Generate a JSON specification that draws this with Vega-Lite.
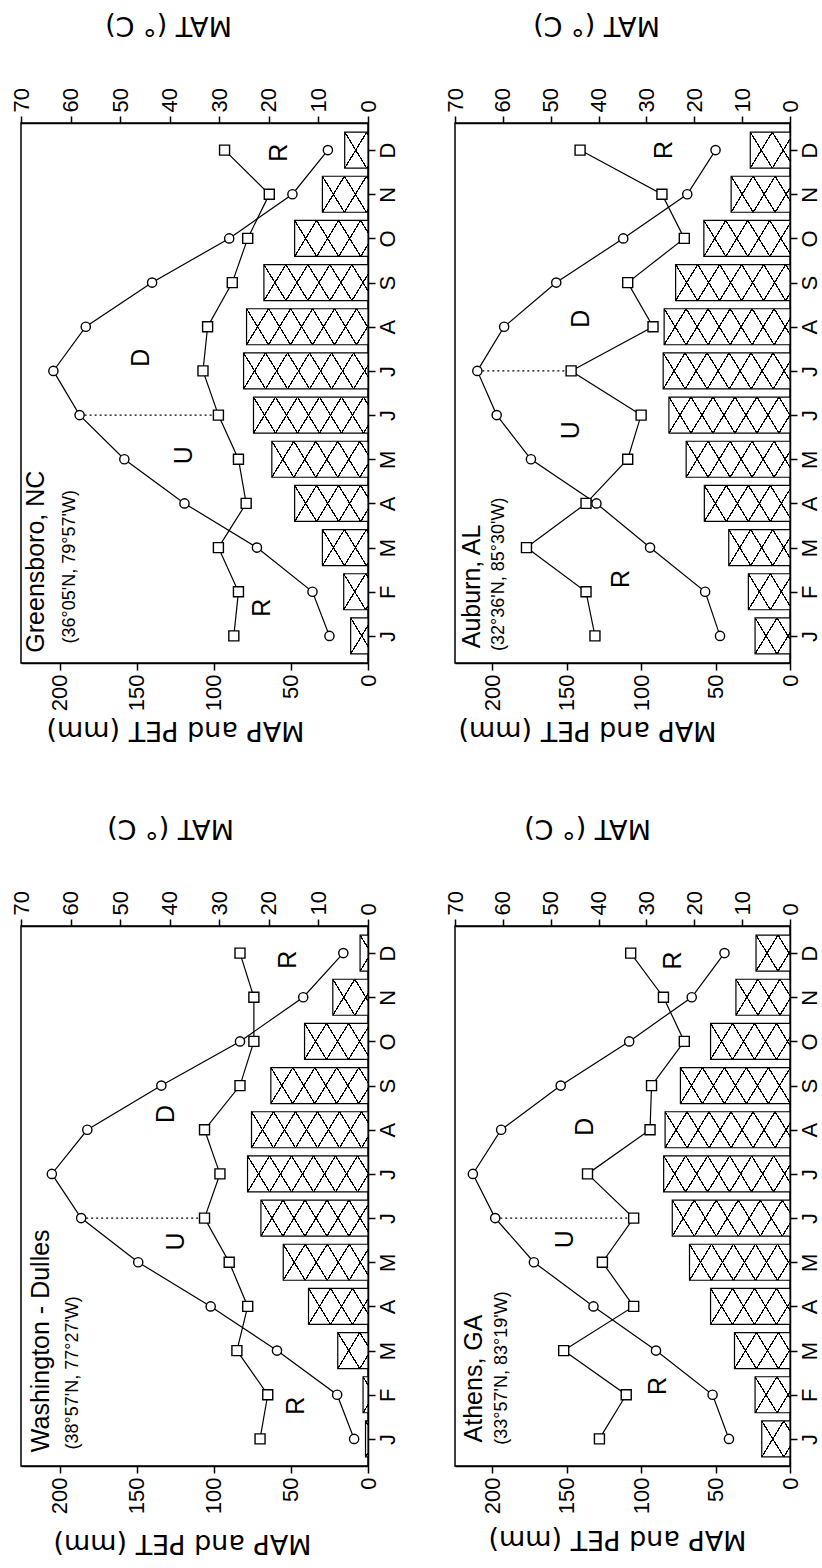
{
"$schema": "https://vega.github.io/schema/vega-lite/v6.json",
"background": "white",
"padding": {"left": 9, "top": 10, "right": 0, "bottom": 6},
"config": {
  "view": {"stroke": "black", "strokeWidth": 1.5},
  "font": "Liberation Sans",
  "axis": {"grid": false, "domainColor": "black", "tickColor": "black", "labelColor": "black", "titleColor": "black", "domainWidth": 1.5, "tickWidth": 1.5, "labelFont": "Liberation Sans", "titleFont": "DejaVu Sans", "titleFontWeight": "normal", "labelFlush": false, "labelOverlap": false},
  "text": {"color": "black"}
},
"columns": 2,
"bounds": "flush",
"spacing": {"row": 263, "column": 87},
"concat": [
{
 "width": 347, "height": 540,
 "data": {"values": [
  {"m":1,"MAP":87,"PET":25,"MAT":3.5},{"m":2,"MAP":84,"PET":36,"MAT":4.9},{"m":3,"MAP":97,"PET":72,"MAT":9.2},
  {"m":4,"MAP":79,"PET":119,"MAT":14.8},{"m":5,"MAP":84,"PET":158,"MAT":19.4},{"m":6,"MAP":97,"PET":187,"MAT":23.1},
  {"m":7,"MAP":107,"PET":204,"MAT":25.1},{"m":8,"MAP":104,"PET":183,"MAT":24.5},{"m":9,"MAP":88,"PET":140,"MAT":21.0},
  {"m":10,"MAP":78,"PET":90,"MAT":14.8},{"m":11,"MAP":64,"PET":49,"MAT":9.2},{"m":12,"MAP":93,"PET":26,"MAT":4.7}]},
 "layer": [
  {"layer": [
   {"mark": {"type": "bar", "orient": "horizontal", "size": 36, "stroke": "black", "strokeWidth": 1.2,
     "fill": {"expr": "{gradient:'linear',x1:0,y1:0,x2:160*datum.MAT*4.957/(pow(datum.MAT*4.957,2)+484),y2:3520/(pow(datum.MAT*4.957,2)+484),stops:[{offset:0,color:'black'},{offset:0.0045,color:'black'},{offset:0.0045,color:'white'},{offset:0.133,color:'white'},{offset:0.133,color:'black'},{offset:0.142,color:'black'},{offset:0.142,color:'white'},{offset:0.2705,color:'white'},{offset:0.2705,color:'black'},{offset:0.2795,color:'black'},{offset:0.2795,color:'white'},{offset:0.408,color:'white'},{offset:0.408,color:'black'},{offset:0.417,color:'black'},{offset:0.417,color:'white'},{offset:0.5455,color:'white'},{offset:0.5455,color:'black'},{offset:0.5545,color:'black'},{offset:0.5545,color:'white'},{offset:0.683,color:'white'},{offset:0.683,color:'black'},{offset:0.692,color:'black'},{offset:0.692,color:'white'},{offset:0.8205,color:'white'},{offset:0.8205,color:'black'},{offset:0.8295,color:'black'},{offset:0.8295,color:'white'},{offset:0.958,color:'white'},{offset:0.958,color:'black'},{offset:0.967,color:'black'},{offset:0.967,color:'white'},{offset:1,color:'white'}]}"}},
    "encoding": {
     "x": {"field": "MAT", "type": "quantitative", "scale": {"domain": [0,70], "reverse": true, "nice": false},
       "axis": {"orient": "top", "values": [0,5,10,15,20,25,30,35,40,45,50,55,60,65,70], "labelExpr": "datum.value % 10 === 0 ? datum.label : ''", "tickSize": 7, "encode": {"ticks": {"update": {"y2": {"signal": "datum.value % 10 === 0 ? -7 : -4"}}}}, "labelAngle": 270, "labelAlign": "left", "labelBaseline": "middle", "labelFontSize": 22, "labelPadding": 4, "title": "MAT (° C)", "titleAngle": 180, "titleBaseline": "top", "titleAlign": "center", "titleFontSize": 27, "titlePadding": 50, "titleX": 147}},
     "y": {"field": "m", "type": "quantitative", "scale": {"domain": [0.5,12.5], "nice": false, "zero": false},
       "axis": {"orient": "right", "values": [1,2,3,4,5,6,7,8,9,10,11,12], "labelExpr": "['J','F','M','A','M','J','J','A','S','O','N','D'][datum.value - 1]", "labelAngle": 270, "labelAlign": "center", "labelBaseline": "top", "labelFontSize": 22, "labelPadding": 2, "tickSize": 7, "title": null}}}},
   {"mark": {"type": "bar", "orient": "horizontal", "size": 36, "stroke": null,
     "fill": {"expr": "{gradient:'linear',x1:0,y1:1,x2:160*datum.MAT*4.957/(pow(datum.MAT*4.957,2)+484),y2:1-3520/(pow(datum.MAT*4.957,2)+484),stops:[{offset:0,color:'black'},{offset:0.0045,color:'black'},{offset:0.0045,color:'rgba(0,0,0,0)'},{offset:0.133,color:'rgba(0,0,0,0)'},{offset:0.133,color:'black'},{offset:0.142,color:'black'},{offset:0.142,color:'rgba(0,0,0,0)'},{offset:0.2705,color:'rgba(0,0,0,0)'},{offset:0.2705,color:'black'},{offset:0.2795,color:'black'},{offset:0.2795,color:'rgba(0,0,0,0)'},{offset:0.408,color:'rgba(0,0,0,0)'},{offset:0.408,color:'black'},{offset:0.417,color:'black'},{offset:0.417,color:'rgba(0,0,0,0)'},{offset:0.5455,color:'rgba(0,0,0,0)'},{offset:0.5455,color:'black'},{offset:0.5545,color:'black'},{offset:0.5545,color:'rgba(0,0,0,0)'},{offset:0.683,color:'rgba(0,0,0,0)'},{offset:0.683,color:'black'},{offset:0.692,color:'black'},{offset:0.692,color:'rgba(0,0,0,0)'},{offset:0.8205,color:'rgba(0,0,0,0)'},{offset:0.8205,color:'black'},{offset:0.8295,color:'black'},{offset:0.8295,color:'rgba(0,0,0,0)'},{offset:0.958,color:'rgba(0,0,0,0)'},{offset:0.958,color:'black'},{offset:0.967,color:'black'},{offset:0.967,color:'rgba(0,0,0,0)'},{offset:1,color:'rgba(0,0,0,0)'}]}"}},
    "encoding": {
     "x": {"field": "MAT", "type": "quantitative", "scale": {"domain": [0,70], "reverse": true, "nice": false}},
     "y": {"field": "m", "type": "quantitative", "scale": {"domain": [0.5,12.5], "nice": false, "zero": false}}}}
  ]},
  {"layer": [
   {"mark": {"type": "line", "color": "black", "strokeWidth": 1.2},
    "encoding": {
     "x": {"field": "MAP", "type": "quantitative", "scale": {"domain": [0,225], "reverse": true, "nice": false, "zero": false},
       "axis": {"orient": "bottom", "values": [0,25,50,75,100,125,150,175,200,225], "labelExpr": "datum.value % 50 === 0 ? datum.label : ''", "tickSize": 7, "encode": {"ticks": {"update": {"y2": {"signal": "datum.value % 50 === 0 ? 7 : 4"}}}}, "labelAngle": 270, "labelAlign": "right", "labelBaseline": "middle", "labelFontSize": 22, "labelPadding": 4, "title": "MAP and PET (mm)", "titleAngle": 180, "titleBaseline": "bottom", "titleAlign": "center", "titleFontSize": 27, "titlePadding": 5, "titleX": 154}},
     "y": {"field": "m", "type": "quantitative", "scale": {"domain": [0.5,12.5], "nice": false, "zero": false}},
     "order": {"field": "m"}}},
   {"mark": {"type": "line", "color": "black", "strokeWidth": 1.2},
    "encoding": {
     "x": {"field": "PET", "type": "quantitative", "scale": {"domain": [0,225], "reverse": true, "nice": false, "zero": false}},
     "y": {"field": "m", "type": "quantitative", "scale": {"domain": [0.5,12.5], "nice": false, "zero": false}},
     "order": {"field": "m"}}},
   {"data": {"values": [{"m": 6, "a": 187, "b": 97}]},
    "mark": {"type": "rule", "color": "black", "strokeWidth": 1.3, "strokeDash": [2,3]},
    "encoding": {
     "x": {"field": "a", "type": "quantitative", "scale": {"domain": [0,225], "reverse": true, "nice": false, "zero": false}},
     "x2": {"field": "b"},
     "y": {"field": "m", "type": "quantitative", "scale": {"domain": [0.5,12.5], "nice": false, "zero": false}}}},
   {"mark": {"type": "point", "shape": "square", "size": 100, "filled": true, "fill": "white", "stroke": "black", "strokeWidth": 1.4, "opacity": 1},
    "encoding": {
     "x": {"field": "MAP", "type": "quantitative", "scale": {"domain": [0,225], "reverse": true, "nice": false, "zero": false}},
     "y": {"field": "m", "type": "quantitative", "scale": {"domain": [0.5,12.5], "nice": false, "zero": false}}}},
   {"mark": {"type": "point", "shape": "circle", "size": 85, "filled": true, "fill": "white", "stroke": "black", "strokeWidth": 1.4, "opacity": 1},
    "encoding": {
     "x": {"field": "PET", "type": "quantitative", "scale": {"domain": [0,225], "reverse": true, "nice": false, "zero": false}},
     "y": {"field": "m", "type": "quantitative", "scale": {"domain": [0.5,12.5], "nice": false, "zero": false}}}},
   {"data": {"values": [{"m": 11.94, "v": 57.7, "t": "R"}, {"m": 1.64, "v": 69, "t": "R"}, {"m": 7.3, "v": 147.5, "t": "D"}, {"m": 5.09, "v": 119.4, "t": "U"}]},
    "mark": {"type": "text", "angle": 270, "fontSize": 25, "align": "center", "baseline": "middle", "color": "black"},
    "encoding": {
     "x": {"field": "v", "type": "quantitative", "scale": {"domain": [0,225], "reverse": true, "nice": false, "zero": false}},
     "y": {"field": "m", "type": "quantitative", "scale": {"domain": [0.5,12.5], "nice": false, "zero": false}},
     "text": {"field": "t"}}},
   {"data": {"values": [{"m": 0.62, "v": 210, "t": "Greensboro, NC"}]},
    "mark": {"type": "text", "angle": 270, "fontSize": 25, "align": "left", "baseline": "alphabetic", "color": "black"},
    "encoding": {
     "x": {"field": "v", "type": "quantitative", "scale": {"domain": [0,225], "reverse": true, "nice": false, "zero": false}},
     "y": {"field": "m", "type": "quantitative", "scale": {"domain": [0.5,12.5], "nice": false, "zero": false}},
     "text": {"field": "t"}}},
   {"data": {"values": [{"m": 0.83, "v": 190, "t": "(36°05'N, 79°57'W)"}]},
    "mark": {"type": "text", "angle": 270, "fontSize": 18, "align": "left", "baseline": "alphabetic", "color": "black"},
    "encoding": {
     "x": {"field": "v", "type": "quantitative", "scale": {"domain": [0,225], "reverse": true, "nice": false, "zero": false}},
     "y": {"field": "m", "type": "quantitative", "scale": {"domain": [0.5,12.5], "nice": false, "zero": false}},
     "text": {"field": "t"}}}
  ]}
 ],
 "resolve": {"scale": {"x": "independent"}, "axis": {"x": "independent"}}
},
{
 "width": 335, "height": 540,
 "data": {"values": [
  {"m":1,"MAP":131,"PET":47,"MAT":7.3},{"m":2,"MAP":137,"PET":57,"MAT":8.7},{"m":3,"MAP":177,"PET":94,"MAT":12.8},
  {"m":4,"MAP":137,"PET":130,"MAT":17.9},{"m":5,"MAP":109,"PET":174,"MAT":21.7},{"m":6,"MAP":100,"PET":197,"MAT":25.3},
  {"m":7,"MAP":147,"PET":210,"MAT":26.5},{"m":8,"MAP":92,"PET":192,"MAT":26.3},{"m":9,"MAP":109,"PET":157,"MAT":23.9},
  {"m":10,"MAP":71,"PET":112,"MAT":18.0},{"m":11,"MAP":86,"PET":69,"MAT":12.3},{"m":12,"MAP":141,"PET":50,"MAT":8.3}]},
 "layer": [
  {"layer": [
   {"mark": {"type": "bar", "orient": "horizontal", "size": 36, "stroke": "black", "strokeWidth": 1.2,
     "fill": {"expr": "{gradient:'linear',x1:0,y1:0,x2:160*datum.MAT*4.786/(pow(datum.MAT*4.786,2)+484),y2:3520/(pow(datum.MAT*4.786,2)+484),stops:[{offset:0,color:'black'},{offset:0.0045,color:'black'},{offset:0.0045,color:'white'},{offset:0.133,color:'white'},{offset:0.133,color:'black'},{offset:0.142,color:'black'},{offset:0.142,color:'white'},{offset:0.2705,color:'white'},{offset:0.2705,color:'black'},{offset:0.2795,color:'black'},{offset:0.2795,color:'white'},{offset:0.408,color:'white'},{offset:0.408,color:'black'},{offset:0.417,color:'black'},{offset:0.417,color:'white'},{offset:0.5455,color:'white'},{offset:0.5455,color:'black'},{offset:0.5545,color:'black'},{offset:0.5545,color:'white'},{offset:0.683,color:'white'},{offset:0.683,color:'black'},{offset:0.692,color:'black'},{offset:0.692,color:'white'},{offset:0.8205,color:'white'},{offset:0.8205,color:'black'},{offset:0.8295,color:'black'},{offset:0.8295,color:'white'},{offset:0.958,color:'white'},{offset:0.958,color:'black'},{offset:0.967,color:'black'},{offset:0.967,color:'white'},{offset:1,color:'white'}]}"}},
    "encoding": {
     "x": {"field": "MAT", "type": "quantitative", "scale": {"domain": [0,70], "reverse": true, "nice": false},
       "axis": {"orient": "top", "values": [0,5,10,15,20,25,30,35,40,45,50,55,60,65,70], "labelExpr": "datum.value % 10 === 0 ? datum.label : ''", "tickSize": 7, "encode": {"ticks": {"update": {"y2": {"signal": "datum.value % 10 === 0 ? -7 : -4"}}}}, "labelAngle": 270, "labelAlign": "left", "labelBaseline": "middle", "labelFontSize": 22, "labelPadding": 4, "title": "MAT (° C)", "titleAngle": 180, "titleBaseline": "top", "titleAlign": "center", "titleFontSize": 27, "titlePadding": 50, "titleX": 141}},
     "y": {"field": "m", "type": "quantitative", "scale": {"domain": [0.5,12.5], "nice": false, "zero": false},
       "axis": {"orient": "right", "values": [1,2,3,4,5,6,7,8,9,10,11,12], "labelExpr": "['J','F','M','A','M','J','J','A','S','O','N','D'][datum.value - 1]", "labelAngle": 270, "labelAlign": "center", "labelBaseline": "top", "labelFontSize": 22, "labelPadding": 2, "tickSize": 7, "title": null}}}},
   {"mark": {"type": "bar", "orient": "horizontal", "size": 36, "stroke": null,
     "fill": {"expr": "{gradient:'linear',x1:0,y1:1,x2:160*datum.MAT*4.786/(pow(datum.MAT*4.786,2)+484),y2:1-3520/(pow(datum.MAT*4.786,2)+484),stops:[{offset:0,color:'black'},{offset:0.0045,color:'black'},{offset:0.0045,color:'rgba(0,0,0,0)'},{offset:0.133,color:'rgba(0,0,0,0)'},{offset:0.133,color:'black'},{offset:0.142,color:'black'},{offset:0.142,color:'rgba(0,0,0,0)'},{offset:0.2705,color:'rgba(0,0,0,0)'},{offset:0.2705,color:'black'},{offset:0.2795,color:'black'},{offset:0.2795,color:'rgba(0,0,0,0)'},{offset:0.408,color:'rgba(0,0,0,0)'},{offset:0.408,color:'black'},{offset:0.417,color:'black'},{offset:0.417,color:'rgba(0,0,0,0)'},{offset:0.5455,color:'rgba(0,0,0,0)'},{offset:0.5455,color:'black'},{offset:0.5545,color:'black'},{offset:0.5545,color:'rgba(0,0,0,0)'},{offset:0.683,color:'rgba(0,0,0,0)'},{offset:0.683,color:'black'},{offset:0.692,color:'black'},{offset:0.692,color:'rgba(0,0,0,0)'},{offset:0.8205,color:'rgba(0,0,0,0)'},{offset:0.8205,color:'black'},{offset:0.8295,color:'black'},{offset:0.8295,color:'rgba(0,0,0,0)'},{offset:0.958,color:'rgba(0,0,0,0)'},{offset:0.958,color:'black'},{offset:0.967,color:'black'},{offset:0.967,color:'rgba(0,0,0,0)'},{offset:1,color:'rgba(0,0,0,0)'}]}"}},
    "encoding": {
     "x": {"field": "MAT", "type": "quantitative", "scale": {"domain": [0,70], "reverse": true, "nice": false}},
     "y": {"field": "m", "type": "quantitative", "scale": {"domain": [0.5,12.5], "nice": false, "zero": false}}}}
  ]},
  {"layer": [
   {"mark": {"type": "line", "color": "black", "strokeWidth": 1.2},
    "encoding": {
     "x": {"field": "MAP", "type": "quantitative", "scale": {"domain": [0,225], "reverse": true, "nice": false, "zero": false},
       "axis": {"orient": "bottom", "values": [0,25,50,75,100,125,150,175,200,225], "labelExpr": "datum.value % 50 === 0 ? datum.label : ''", "tickSize": 7, "encode": {"ticks": {"update": {"y2": {"signal": "datum.value % 50 === 0 ? 7 : 4"}}}}, "labelAngle": 270, "labelAlign": "right", "labelBaseline": "middle", "labelFontSize": 22, "labelPadding": 4, "title": "MAP and PET (mm)", "titleAngle": 180, "titleBaseline": "bottom", "titleAlign": "center", "titleFontSize": 27, "titlePadding": 5, "titleX": 132}},
     "y": {"field": "m", "type": "quantitative", "scale": {"domain": [0.5,12.5], "nice": false, "zero": false}},
     "order": {"field": "m"}}},
   {"mark": {"type": "line", "color": "black", "strokeWidth": 1.2},
    "encoding": {
     "x": {"field": "PET", "type": "quantitative", "scale": {"domain": [0,225], "reverse": true, "nice": false, "zero": false}},
     "y": {"field": "m", "type": "quantitative", "scale": {"domain": [0.5,12.5], "nice": false, "zero": false}},
     "order": {"field": "m"}}},
   {"data": {"values": [{"m": 7, "a": 210, "b": 147}]},
    "mark": {"type": "rule", "color": "black", "strokeWidth": 1.3, "strokeDash": [2,3]},
    "encoding": {
     "x": {"field": "a", "type": "quantitative", "scale": {"domain": [0,225], "reverse": true, "nice": false, "zero": false}},
     "x2": {"field": "b"},
     "y": {"field": "m", "type": "quantitative", "scale": {"domain": [0.5,12.5], "nice": false, "zero": false}}}},
   {"mark": {"type": "point", "shape": "square", "size": 100, "filled": true, "fill": "white", "stroke": "black", "strokeWidth": 1.4, "opacity": 1},
    "encoding": {
     "x": {"field": "MAP", "type": "quantitative", "scale": {"domain": [0,225], "reverse": true, "nice": false, "zero": false}},
     "y": {"field": "m", "type": "quantitative", "scale": {"domain": [0.5,12.5], "nice": false, "zero": false}}}},
   {"mark": {"type": "point", "shape": "circle", "size": 85, "filled": true, "fill": "white", "stroke": "black", "strokeWidth": 1.4, "opacity": 1},
    "encoding": {
     "x": {"field": "PET", "type": "quantitative", "scale": {"domain": [0,225], "reverse": true, "nice": false, "zero": false}},
     "y": {"field": "m", "type": "quantitative", "scale": {"domain": [0.5,12.5], "nice": false, "zero": false}}}},
   {"data": {"values": [{"m": 12.0, "v": 84.7, "t": "R"}, {"m": 2.29, "v": 113.6, "t": "R"}, {"m": 8.18, "v": 140.3, "t": "D"}, {"m": 5.66, "v": 147, "t": "U"}]},
    "mark": {"type": "text", "angle": 270, "fontSize": 25, "align": "center", "baseline": "middle", "color": "black"},
    "encoding": {
     "x": {"field": "v", "type": "quantitative", "scale": {"domain": [0,225], "reverse": true, "nice": false, "zero": false}},
     "y": {"field": "m", "type": "quantitative", "scale": {"domain": [0.5,12.5], "nice": false, "zero": false}},
     "text": {"field": "t"}}},
   {"data": {"values": [{"m": 0.72, "v": 208, "t": "Auburn, AL"}]},
    "mark": {"type": "text", "angle": 270, "fontSize": 25, "align": "left", "baseline": "alphabetic", "color": "black"},
    "encoding": {
     "x": {"field": "v", "type": "quantitative", "scale": {"domain": [0,225], "reverse": true, "nice": false, "zero": false}},
     "y": {"field": "m", "type": "quantitative", "scale": {"domain": [0.5,12.5], "nice": false, "zero": false}},
     "text": {"field": "t"}}},
   {"data": {"values": [{"m": 0.66, "v": 192, "t": "(32°36'N, 85°30'W)"}]},
    "mark": {"type": "text", "angle": 270, "fontSize": 18, "align": "left", "baseline": "alphabetic", "color": "black"},
    "encoding": {
     "x": {"field": "v", "type": "quantitative", "scale": {"domain": [0,225], "reverse": true, "nice": false, "zero": false}},
     "y": {"field": "m", "type": "quantitative", "scale": {"domain": [0.5,12.5], "nice": false, "zero": false}},
     "text": {"field": "t"}}}
  ]}
 ],
 "resolve": {"scale": {"x": "independent"}, "axis": {"x": "independent"}}
},
{
 "width": 347, "height": 540,
 "data": {"values": [
  {"m":1,"MAP":70,"PET":9,"MAT":0.5},{"m":2,"MAP":65,"PET":20,"MAT":1.0},{"m":3,"MAP":85,"PET":59,"MAT":6.1},
  {"m":4,"MAP":78,"PET":102,"MAT":12.0},{"m":5,"MAP":90,"PET":149,"MAT":17.1},{"m":6,"MAP":106,"PET":186,"MAT":21.6},
  {"m":7,"MAP":96,"PET":205,"MAT":24.3},{"m":8,"MAP":106,"PET":182,"MAT":23.5},{"m":9,"MAP":83,"PET":134,"MAT":19.6},
  {"m":10,"MAP":74,"PET":83,"MAT":12.8},{"m":11,"MAP":74,"PET":42,"MAT":7.1},{"m":12,"MAP":83,"PET":16,"MAT":1.6}]},
 "layer": [
  {"layer": [
   {"mark": {"type": "bar", "orient": "horizontal", "size": 36, "stroke": "black", "strokeWidth": 1.2,
     "fill": {"expr": "{gradient:'linear',x1:0,y1:0,x2:160*datum.MAT*4.957/(pow(datum.MAT*4.957,2)+484),y2:3520/(pow(datum.MAT*4.957,2)+484),stops:[{offset:0,color:'black'},{offset:0.0045,color:'black'},{offset:0.0045,color:'white'},{offset:0.133,color:'white'},{offset:0.133,color:'black'},{offset:0.142,color:'black'},{offset:0.142,color:'white'},{offset:0.2705,color:'white'},{offset:0.2705,color:'black'},{offset:0.2795,color:'black'},{offset:0.2795,color:'white'},{offset:0.408,color:'white'},{offset:0.408,color:'black'},{offset:0.417,color:'black'},{offset:0.417,color:'white'},{offset:0.5455,color:'white'},{offset:0.5455,color:'black'},{offset:0.5545,color:'black'},{offset:0.5545,color:'white'},{offset:0.683,color:'white'},{offset:0.683,color:'black'},{offset:0.692,color:'black'},{offset:0.692,color:'white'},{offset:0.8205,color:'white'},{offset:0.8205,color:'black'},{offset:0.8295,color:'black'},{offset:0.8295,color:'white'},{offset:0.958,color:'white'},{offset:0.958,color:'black'},{offset:0.967,color:'black'},{offset:0.967,color:'white'},{offset:1,color:'white'}]}"}},
    "encoding": {
     "x": {"field": "MAT", "type": "quantitative", "scale": {"domain": [0,70], "reverse": true, "nice": false},
       "axis": {"orient": "top", "values": [0,5,10,15,20,25,30,35,40,45,50,55,60,65,70], "labelExpr": "datum.value % 10 === 0 ? datum.label : ''", "tickSize": 7, "encode": {"ticks": {"update": {"y2": {"signal": "datum.value % 10 === 0 ? -7 : -4"}}}}, "labelAngle": 270, "labelAlign": "left", "labelBaseline": "middle", "labelFontSize": 22, "labelPadding": 4, "title": "MAT (° C)", "titleAngle": 180, "titleBaseline": "top", "titleAlign": "center", "titleFontSize": 27, "titlePadding": 50, "titleX": 149}},
     "y": {"field": "m", "type": "quantitative", "scale": {"domain": [0.5,12.5], "nice": false, "zero": false},
       "axis": {"orient": "right", "values": [1,2,3,4,5,6,7,8,9,10,11,12], "labelExpr": "['J','F','M','A','M','J','J','A','S','O','N','D'][datum.value - 1]", "labelAngle": 270, "labelAlign": "center", "labelBaseline": "top", "labelFontSize": 22, "labelPadding": 2, "tickSize": 7, "title": null}}}},
   {"mark": {"type": "bar", "orient": "horizontal", "size": 36, "stroke": null,
     "fill": {"expr": "{gradient:'linear',x1:0,y1:1,x2:160*datum.MAT*4.957/(pow(datum.MAT*4.957,2)+484),y2:1-3520/(pow(datum.MAT*4.957,2)+484),stops:[{offset:0,color:'black'},{offset:0.0045,color:'black'},{offset:0.0045,color:'rgba(0,0,0,0)'},{offset:0.133,color:'rgba(0,0,0,0)'},{offset:0.133,color:'black'},{offset:0.142,color:'black'},{offset:0.142,color:'rgba(0,0,0,0)'},{offset:0.2705,color:'rgba(0,0,0,0)'},{offset:0.2705,color:'black'},{offset:0.2795,color:'black'},{offset:0.2795,color:'rgba(0,0,0,0)'},{offset:0.408,color:'rgba(0,0,0,0)'},{offset:0.408,color:'black'},{offset:0.417,color:'black'},{offset:0.417,color:'rgba(0,0,0,0)'},{offset:0.5455,color:'rgba(0,0,0,0)'},{offset:0.5455,color:'black'},{offset:0.5545,color:'black'},{offset:0.5545,color:'rgba(0,0,0,0)'},{offset:0.683,color:'rgba(0,0,0,0)'},{offset:0.683,color:'black'},{offset:0.692,color:'black'},{offset:0.692,color:'rgba(0,0,0,0)'},{offset:0.8205,color:'rgba(0,0,0,0)'},{offset:0.8205,color:'black'},{offset:0.8295,color:'black'},{offset:0.8295,color:'rgba(0,0,0,0)'},{offset:0.958,color:'rgba(0,0,0,0)'},{offset:0.958,color:'black'},{offset:0.967,color:'black'},{offset:0.967,color:'rgba(0,0,0,0)'},{offset:1,color:'rgba(0,0,0,0)'}]}"}},
    "encoding": {
     "x": {"field": "MAT", "type": "quantitative", "scale": {"domain": [0,70], "reverse": true, "nice": false}},
     "y": {"field": "m", "type": "quantitative", "scale": {"domain": [0.5,12.5], "nice": false, "zero": false}}}}
  ]},
  {"layer": [
   {"mark": {"type": "line", "color": "black", "strokeWidth": 1.2},
    "encoding": {
     "x": {"field": "MAP", "type": "quantitative", "scale": {"domain": [0,225], "reverse": true, "nice": false, "zero": false},
       "axis": {"orient": "bottom", "values": [0,25,50,75,100,125,150,175,200,225], "labelExpr": "datum.value % 50 === 0 ? datum.label : ''", "tickSize": 7, "encode": {"ticks": {"update": {"y2": {"signal": "datum.value % 50 === 0 ? 7 : 4"}}}}, "labelAngle": 270, "labelAlign": "right", "labelBaseline": "middle", "labelFontSize": 22, "labelPadding": 4, "title": "MAP and PET (mm)", "titleAngle": 180, "titleBaseline": "bottom", "titleAlign": "center", "titleFontSize": 27, "titlePadding": 15, "titleX": 161}},
     "y": {"field": "m", "type": "quantitative", "scale": {"domain": [0.5,12.5], "nice": false, "zero": false}},
     "order": {"field": "m"}}},
   {"mark": {"type": "line", "color": "black", "strokeWidth": 1.2},
    "encoding": {
     "x": {"field": "PET", "type": "quantitative", "scale": {"domain": [0,225], "reverse": true, "nice": false, "zero": false}},
     "y": {"field": "m", "type": "quantitative", "scale": {"domain": [0.5,12.5], "nice": false, "zero": false}},
     "order": {"field": "m"}}},
   {"data": {"values": [{"m": 6, "a": 186, "b": 106}]},
    "mark": {"type": "rule", "color": "black", "strokeWidth": 1.3, "strokeDash": [2,3]},
    "encoding": {
     "x": {"field": "a", "type": "quantitative", "scale": {"domain": [0,225], "reverse": true, "nice": false, "zero": false}},
     "x2": {"field": "b"},
     "y": {"field": "m", "type": "quantitative", "scale": {"domain": [0.5,12.5], "nice": false, "zero": false}}}},
   {"mark": {"type": "point", "shape": "square", "size": 100, "filled": true, "fill": "white", "stroke": "black", "strokeWidth": 1.4, "opacity": 1},
    "encoding": {
     "x": {"field": "MAP", "type": "quantitative", "scale": {"domain": [0,225], "reverse": true, "nice": false, "zero": false}},
     "y": {"field": "m", "type": "quantitative", "scale": {"domain": [0.5,12.5], "nice": false, "zero": false}}}},
   {"mark": {"type": "point", "shape": "circle", "size": 85, "filled": true, "fill": "white", "stroke": "black", "strokeWidth": 1.4, "opacity": 1},
    "encoding": {
     "x": {"field": "PET", "type": "quantitative", "scale": {"domain": [0,225], "reverse": true, "nice": false, "zero": false}},
     "y": {"field": "m", "type": "quantitative", "scale": {"domain": [0.5,12.5], "nice": false, "zero": false}}}},
   {"data": {"values": [{"m": 11.85, "v": 51.9, "t": "R"}, {"m": 1.75, "v": 46.5, "t": "R"}, {"m": 8.36, "v": 130.9, "t": "D"}, {"m": 5.47, "v": 124.4, "t": "U"}]},
    "mark": {"type": "text", "angle": 270, "fontSize": 25, "align": "center", "baseline": "middle", "color": "black"},
    "encoding": {
     "x": {"field": "v", "type": "quantitative", "scale": {"domain": [0,225], "reverse": true, "nice": false, "zero": false}},
     "y": {"field": "m", "type": "quantitative", "scale": {"domain": [0.5,12.5], "nice": false, "zero": false}},
     "text": {"field": "t"}}},
   {"data": {"values": [{"m": 0.7, "v": 207, "t": "Washington - Dulles"}]},
    "mark": {"type": "text", "angle": 270, "fontSize": 25, "align": "left", "baseline": "alphabetic", "color": "black"},
    "encoding": {
     "x": {"field": "v", "type": "quantitative", "scale": {"domain": [0,225], "reverse": true, "nice": false, "zero": false}},
     "y": {"field": "m", "type": "quantitative", "scale": {"domain": [0.5,12.5], "nice": false, "zero": false}},
     "text": {"field": "t"}}},
   {"data": {"values": [{"m": 0.76, "v": 188, "t": "(38°57'N, 77°27'W)"}]},
    "mark": {"type": "text", "angle": 270, "fontSize": 18, "align": "left", "baseline": "alphabetic", "color": "black"},
    "encoding": {
     "x": {"field": "v", "type": "quantitative", "scale": {"domain": [0,225], "reverse": true, "nice": false, "zero": false}},
     "y": {"field": "m", "type": "quantitative", "scale": {"domain": [0.5,12.5], "nice": false, "zero": false}},
     "text": {"field": "t"}}}
  ]}
 ],
 "resolve": {"scale": {"x": "independent"}, "axis": {"x": "independent"}}
},
{
 "width": 335, "height": 540,
 "data": {"values": [
  {"m":1,"MAP":128,"PET":41,"MAT":5.9},{"m":2,"MAP":110,"PET":52,"MAT":7.3},{"m":3,"MAP":152,"PET":90,"MAT":11.6},
  {"m":4,"MAP":105,"PET":132,"MAT":16.6},{"m":5,"MAP":126,"PET":172,"MAT":21.0},{"m":6,"MAP":105,"PET":198,"MAT":24.6},
  {"m":7,"MAP":136,"PET":213,"MAT":26.4},{"m":8,"MAP":94,"PET":194,"MAT":26.1},{"m":9,"MAP":93,"PET":154,"MAT":22.9},
  {"m":10,"MAP":71,"PET":108,"MAT":16.6},{"m":11,"MAP":85,"PET":66,"MAT":11.3},{"m":12,"MAP":107,"PET":44,"MAT":7.1}]},
 "layer": [
  {"layer": [
   {"mark": {"type": "bar", "orient": "horizontal", "size": 36, "stroke": "black", "strokeWidth": 1.2,
     "fill": {"expr": "{gradient:'linear',x1:0,y1:0,x2:160*datum.MAT*4.786/(pow(datum.MAT*4.786,2)+484),y2:3520/(pow(datum.MAT*4.786,2)+484),stops:[{offset:0,color:'black'},{offset:0.0045,color:'black'},{offset:0.0045,color:'white'},{offset:0.133,color:'white'},{offset:0.133,color:'black'},{offset:0.142,color:'black'},{offset:0.142,color:'white'},{offset:0.2705,color:'white'},{offset:0.2705,color:'black'},{offset:0.2795,color:'black'},{offset:0.2795,color:'white'},{offset:0.408,color:'white'},{offset:0.408,color:'black'},{offset:0.417,color:'black'},{offset:0.417,color:'white'},{offset:0.5455,color:'white'},{offset:0.5455,color:'black'},{offset:0.5545,color:'black'},{offset:0.5545,color:'white'},{offset:0.683,color:'white'},{offset:0.683,color:'black'},{offset:0.692,color:'black'},{offset:0.692,color:'white'},{offset:0.8205,color:'white'},{offset:0.8205,color:'black'},{offset:0.8295,color:'black'},{offset:0.8295,color:'white'},{offset:0.958,color:'white'},{offset:0.958,color:'black'},{offset:0.967,color:'black'},{offset:0.967,color:'white'},{offset:1,color:'white'}]}"}},
    "encoding": {
     "x": {"field": "MAT", "type": "quantitative", "scale": {"domain": [0,70], "reverse": true, "nice": false},
       "axis": {"orient": "top", "values": [0,5,10,15,20,25,30,35,40,45,50,55,60,65,70], "labelExpr": "datum.value % 10 === 0 ? datum.label : ''", "tickSize": 7, "encode": {"ticks": {"update": {"y2": {"signal": "datum.value % 10 === 0 ? -7 : -4"}}}}, "labelAngle": 270, "labelAlign": "left", "labelBaseline": "middle", "labelFontSize": 22, "labelPadding": 4, "title": "MAT (° C)", "titleAngle": 180, "titleBaseline": "top", "titleAlign": "center", "titleFontSize": 27, "titlePadding": 50, "titleX": 132}},
     "y": {"field": "m", "type": "quantitative", "scale": {"domain": [0.5,12.5], "nice": false, "zero": false},
       "axis": {"orient": "right", "values": [1,2,3,4,5,6,7,8,9,10,11,12], "labelExpr": "['J','F','M','A','M','J','J','A','S','O','N','D'][datum.value - 1]", "labelAngle": 270, "labelAlign": "center", "labelBaseline": "top", "labelFontSize": 22, "labelPadding": 2, "tickSize": 7, "title": null}}}},
   {"mark": {"type": "bar", "orient": "horizontal", "size": 36, "stroke": null,
     "fill": {"expr": "{gradient:'linear',x1:0,y1:1,x2:160*datum.MAT*4.786/(pow(datum.MAT*4.786,2)+484),y2:1-3520/(pow(datum.MAT*4.786,2)+484),stops:[{offset:0,color:'black'},{offset:0.0045,color:'black'},{offset:0.0045,color:'rgba(0,0,0,0)'},{offset:0.133,color:'rgba(0,0,0,0)'},{offset:0.133,color:'black'},{offset:0.142,color:'black'},{offset:0.142,color:'rgba(0,0,0,0)'},{offset:0.2705,color:'rgba(0,0,0,0)'},{offset:0.2705,color:'black'},{offset:0.2795,color:'black'},{offset:0.2795,color:'rgba(0,0,0,0)'},{offset:0.408,color:'rgba(0,0,0,0)'},{offset:0.408,color:'black'},{offset:0.417,color:'black'},{offset:0.417,color:'rgba(0,0,0,0)'},{offset:0.5455,color:'rgba(0,0,0,0)'},{offset:0.5455,color:'black'},{offset:0.5545,color:'black'},{offset:0.5545,color:'rgba(0,0,0,0)'},{offset:0.683,color:'rgba(0,0,0,0)'},{offset:0.683,color:'black'},{offset:0.692,color:'black'},{offset:0.692,color:'rgba(0,0,0,0)'},{offset:0.8205,color:'rgba(0,0,0,0)'},{offset:0.8205,color:'black'},{offset:0.8295,color:'black'},{offset:0.8295,color:'rgba(0,0,0,0)'},{offset:0.958,color:'rgba(0,0,0,0)'},{offset:0.958,color:'black'},{offset:0.967,color:'black'},{offset:0.967,color:'rgba(0,0,0,0)'},{offset:1,color:'rgba(0,0,0,0)'}]}"}},
    "encoding": {
     "x": {"field": "MAT", "type": "quantitative", "scale": {"domain": [0,70], "reverse": true, "nice": false}},
     "y": {"field": "m", "type": "quantitative", "scale": {"domain": [0.5,12.5], "nice": false, "zero": false}}}}
  ]},
  {"layer": [
   {"mark": {"type": "line", "color": "black", "strokeWidth": 1.2},
    "encoding": {
     "x": {"field": "MAP", "type": "quantitative", "scale": {"domain": [0,225], "reverse": true, "nice": false, "zero": false},
       "axis": {"orient": "bottom", "values": [0,25,50,75,100,125,150,175,200,225], "labelExpr": "datum.value % 50 === 0 ? datum.label : ''", "tickSize": 7, "encode": {"ticks": {"update": {"y2": {"signal": "datum.value % 50 === 0 ? 7 : 4"}}}}, "labelAngle": 270, "labelAlign": "right", "labelBaseline": "middle", "labelFontSize": 22, "labelPadding": 4, "title": "MAP and PET (mm)", "titleAngle": 180, "titleBaseline": "bottom", "titleAlign": "center", "titleFontSize": 27, "titlePadding": 11, "titleX": 162}},
     "y": {"field": "m", "type": "quantitative", "scale": {"domain": [0.5,12.5], "nice": false, "zero": false}},
     "order": {"field": "m"}}},
   {"mark": {"type": "line", "color": "black", "strokeWidth": 1.2},
    "encoding": {
     "x": {"field": "PET", "type": "quantitative", "scale": {"domain": [0,225], "reverse": true, "nice": false, "zero": false}},
     "y": {"field": "m", "type": "quantitative", "scale": {"domain": [0.5,12.5], "nice": false, "zero": false}},
     "order": {"field": "m"}}},
   {"data": {"values": [{"m": 6, "a": 198, "b": 105}]},
    "mark": {"type": "rule", "color": "black", "strokeWidth": 1.3, "strokeDash": [2,3]},
    "encoding": {
     "x": {"field": "a", "type": "quantitative", "scale": {"domain": [0,225], "reverse": true, "nice": false, "zero": false}},
     "x2": {"field": "b"},
     "y": {"field": "m", "type": "quantitative", "scale": {"domain": [0.5,12.5], "nice": false, "zero": false}}}},
   {"mark": {"type": "point", "shape": "square", "size": 100, "filled": true, "fill": "white", "stroke": "black", "strokeWidth": 1.4, "opacity": 1},
    "encoding": {
     "x": {"field": "MAP", "type": "quantitative", "scale": {"domain": [0,225], "reverse": true, "nice": false, "zero": false}},
     "y": {"field": "m", "type": "quantitative", "scale": {"domain": [0.5,12.5], "nice": false, "zero": false}}}},
   {"mark": {"type": "point", "shape": "circle", "size": 85, "filled": true, "fill": "white", "stroke": "black", "strokeWidth": 1.4, "opacity": 1},
    "encoding": {
     "x": {"field": "PET", "type": "quantitative", "scale": {"domain": [0,225], "reverse": true, "nice": false, "zero": false}},
     "y": {"field": "m", "type": "quantitative", "scale": {"domain": [0.5,12.5], "nice": false, "zero": false}}}},
   {"data": {"values": [{"m": 11.83, "v": 78.6, "t": "R"}, {"m": 2.2, "v": 88.7, "t": "R"}, {"m": 8.07, "v": 137.7, "t": "D"}, {"m": 5.52, "v": 151, "t": "U"}]},
    "mark": {"type": "text", "angle": 270, "fontSize": 25, "align": "center", "baseline": "middle", "color": "black"},
    "encoding": {
     "x": {"field": "v", "type": "quantitative", "scale": {"domain": [0,225], "reverse": true, "nice": false, "zero": false}},
     "y": {"field": "m", "type": "quantitative", "scale": {"domain": [0.5,12.5], "nice": false, "zero": false}},
     "text": {"field": "t"}}},
   {"data": {"values": [{"m": 0.92, "v": 207, "t": "Athens, GA"}]},
    "mark": {"type": "text", "angle": 270, "fontSize": 25, "align": "left", "baseline": "alphabetic", "color": "black"},
    "encoding": {
     "x": {"field": "v", "type": "quantitative", "scale": {"domain": [0,225], "reverse": true, "nice": false, "zero": false}},
     "y": {"field": "m", "type": "quantitative", "scale": {"domain": [0.5,12.5], "nice": false, "zero": false}},
     "text": {"field": "t"}}},
   {"data": {"values": [{"m": 0.87, "v": 190, "t": "(33°57'N, 83°19'W)"}]},
    "mark": {"type": "text", "angle": 270, "fontSize": 18, "align": "left", "baseline": "alphabetic", "color": "black"},
    "encoding": {
     "x": {"field": "v", "type": "quantitative", "scale": {"domain": [0,225], "reverse": true, "nice": false, "zero": false}},
     "y": {"field": "m", "type": "quantitative", "scale": {"domain": [0.5,12.5], "nice": false, "zero": false}},
     "text": {"field": "t"}}}
  ]}
 ],
 "resolve": {"scale": {"x": "independent"}, "axis": {"x": "independent"}}
}
]
}
